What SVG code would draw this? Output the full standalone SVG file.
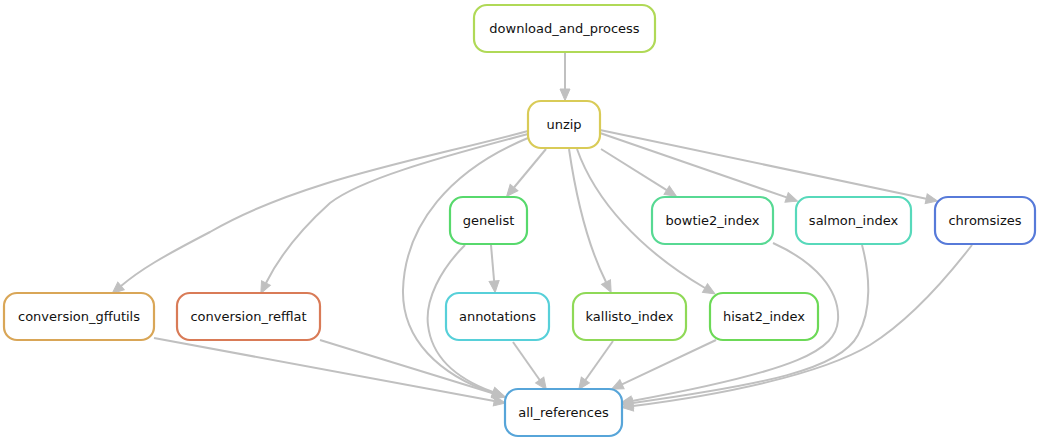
<svg xmlns="http://www.w3.org/2000/svg" width="1040" height="443" viewBox="0 0 1040 443">
<style>
.n rect{fill:#fff;stroke-width:2.2}
.n text{font-family:"DejaVu Sans",sans-serif;font-size:13px;fill:#111;text-anchor:middle}
.e path{fill:none;stroke:#c0c0c0;stroke-width:2;marker-end:url(#ah)}
</style>
<defs>
<marker id="ah" markerUnits="userSpaceOnUse" markerWidth="14" markerHeight="12" refX="0" refY="6" orient="auto" overflow="visible">
<path d="M0,1 L11.5,6 L0,11 z" fill="#c0c0c0" stroke="#c0c0c0" stroke-width="1"/>
</marker>
</defs>
<rect width="1040" height="443" fill="#fff"/>
<g id="edges" class="e">
<path d="M565,52 L565,89"/>
<path d="M546,149 L514,187.5"/>
<path d="M601,149 L666.7,190.2"/>
<path d="M600,133 L786.6,197.4"/>
<path d="M600,130 L926.2,198.7"/>
<path d="M569,149 C575,190 585,240 606,282"/>
<path d="M577,149 C595,200 640,250 705,288"/>
<path d="M528,131 C420,160 300,180 210,232 C160,258 140,270 121,286"/>
<path d="M528,134 C430,160 360,180 330,203 C300,230 280,255 266,283"/>
<path d="M528,138 C450,170 405,225 403,290 C402,340 440,375 493,393"/>
<path d="M465,245 C440,270 425,300 428,325 C432,360 460,380 493,392"/>
<path d="M491,245 L494.1,281"/>
<path d="M154,338 L494.2,401"/>
<path d="M320,340 L494.5,393.8"/>
<path d="M513,342 L539.7,380"/>
<path d="M613,341 L585.4,380"/>
<path d="M716,340 L622,384.3"/>
<path d="M773,243 C815,262 840,290 838,320 C836,350 800,370 632,401"/>
<path d="M862,245 C870,275 872,310 858,335 C840,370 760,385 633,403"/>
<path d="M972,245 C945,280 910,320 870,345 C820,375 720,395 633,406"/>
</g>
<g id="download_and_process" class="n"><rect x="474" y="5" width="181" height="47" rx="13" stroke="#b0d957"/><text x="564.5" y="33">download_and_process</text></g>
<g id="unzip" class="n"><rect x="528" y="101" width="72" height="47" rx="13" stroke="#d9cb57"/><text x="564" y="129">unzip</text></g>
<g id="genelist" class="n"><rect x="450" y="197" width="77" height="47" rx="13" stroke="#57d96c"/><text x="488.5" y="225">genelist</text></g>
<g id="bowtie2_index" class="n"><rect x="652" y="197" width="121" height="47" rx="13" stroke="#57d993"/><text x="712.5" y="225">bowtie2_index</text></g>
<g id="salmon_index" class="n"><rect x="796" y="197" width="115" height="47" rx="13" stroke="#57d9bb"/><text x="853.5" y="225">salmon_index</text></g>
<g id="chromsizes" class="n"><rect x="935" y="197" width="100" height="47" rx="13" stroke="#577ad9"/><text x="985" y="225">chromsizes</text></g>
<g id="conversion_gffutils" class="n"><rect x="4" y="293" width="150" height="47" rx="13" stroke="#d9a657"/><text x="79" y="321">conversion_gffutils</text></g>
<g id="conversion_refflat" class="n"><rect x="177" y="293" width="143" height="47" rx="13" stroke="#d97b57"/><text x="248.5" y="321">conversion_refflat</text></g>
<g id="annotations" class="n"><rect x="446" y="293" width="103" height="47" rx="13" stroke="#57d0d9"/><text x="497.5" y="321">annotations</text></g>
<g id="kallisto_index" class="n"><rect x="573" y="293" width="113" height="47" rx="13" stroke="#8fd957"/><text x="629.5" y="321">kallisto_index</text></g>
<g id="hisat2_index" class="n"><rect x="710" y="293" width="108" height="47" rx="13" stroke="#6cd957"/><text x="764" y="321">hisat2_index</text></g>
<g id="all_references" class="n"><rect x="505" y="389" width="117" height="47" rx="13" stroke="#57a5d9"/><text x="563.5" y="417">all_references</text></g>
</svg>
